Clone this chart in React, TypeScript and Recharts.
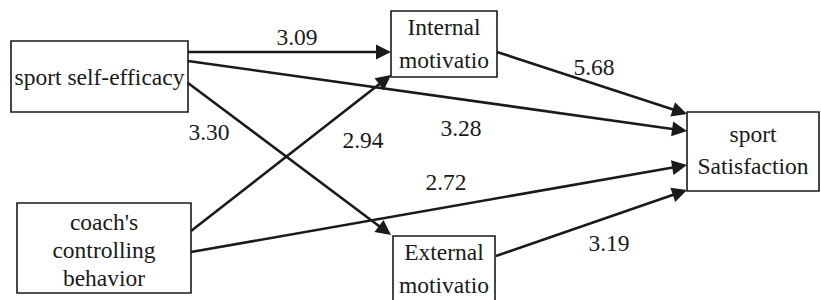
import React from 'react';
import { ScatterChart, Scatter, XAxis, YAxis, ReferenceArea, ReferenceLine } from 'recharts';

const CHART_W = 821;
const CHART_H = 300;

// Nodes of the path model
const nodeIds = ['SE', 'IM', 'SS', 'CC', 'EM'];
const nodeLabels: string[][] = [
  ['sport self-efficacy'],
  ['Internal', 'motivatio'],
  ['sport', 'Satisfaction'],
  ["coach's", 'controlling', 'behavior'],
  ['External', 'motivatio'],
];
// Layout (diagram units)
const nodeLeft = [11, 391, 687, 17, 393];
const nodeRight = [188, 497, 819, 191, 495];
const nodeTop = [41, 11, 112, 203, 236];
const nodeBottom = [112, 77, 191, 293, 315];
const nodeTextY = [77, 27, 134, 222, 252];
const nodeLineGap = [0, 33, 32, 28, 33];

// Paths and coefficients
const edgeFrom = ['SE', 'SE', 'SE', 'CC', 'CC', 'IM', 'EM'];
const edgeTo = ['IM', 'SS', 'EM', 'IM', 'SS', 'SS', 'SS'];
const edgeCoef = [3.09, 3.28, 3.3, 2.94, 2.72, 5.68, 3.19];
// Layout of paths (diagram units)
const edgeX1 = [188, 188, 188, 191, 191, 497, 496];
const edgeY1 = [52, 61, 83, 231, 252, 52, 256];
const edgeX2 = [391, 687, 391, 391, 687, 687, 687];
const edgeY2 = [52, 131, 235, 75, 165, 114, 190];
const labelX = [297, 461, 209, 363, 446, 594, 609];
const labelY = [37, 128, 132, 140, 182, 67, 243];

const INK = '#1a1a1a';
const FONT = 'Times New Roman';
const FS = 23.5;

const labelData = edgeCoef.map((c, i) => ({
  x: labelX[i],
  y: labelY[i],
  text: c.toFixed(2),
  path: `${edgeFrom[i]}->${edgeTo[i]}`,
}));

const nodeTextData = nodeIds.map((id, i) => ({
  x: (nodeLeft[i] + nodeRight[i]) / 2,
  y: nodeTextY[i],
  id,
  lines: nodeLabels[i],
  gap: nodeLineGap[i],
}));

const ArrowShape = (props: any) => {
  const { x1, y1, x2, y2 } = props;
  if ([x1, y1, x2, y2].some((v) => typeof v !== 'number' || isNaN(v))) return null;
  const dx = x2 - x1;
  const dy = y2 - y1;
  const len = Math.sqrt(dx * dx + dy * dy) || 1;
  const ux = dx / len;
  const uy = dy / len;
  const L = 15;
  const Wd = 7.5;
  const bx = x2 - ux * L;
  const by = y2 - uy * L;
  const px = -uy * Wd;
  const py = ux * Wd;
  return (
    <g>
      <line x1={x1} y1={y1} x2={bx + ux * 2} y2={by + uy * 2} stroke={INK} strokeWidth={2.6} />
      <polygon points={`${x2},${y2} ${bx + px},${by + py} ${bx - px},${by - py}`} fill={INK} stroke="none" />
    </g>
  );
};

const LabelShape = (props: any) => {
  const { cx, cy, payload } = props;
  return (
    <text x={cx} y={cy + 8} textAnchor="middle" style={{ fontFamily: FONT, fontSize: FS }} fill={INK}>
      {payload.text}
    </text>
  );
};

const NodeTextShape = (props: any) => {
  const { cx, cy, payload } = props;
  return (
    <g>
      {payload.lines.map((ln: string, k: number) => (
        <text key={k} x={cx} y={cy + k * payload.gap + 8} textAnchor="middle" style={{ fontFamily: FONT, fontSize: FS }} fill={INK}>
          {ln}
        </text>
      ))}
    </g>
  );
};

export default function App() {
  return (
    <div style={{ position: 'absolute', left: 0, top: 0, width: CHART_W, height: CHART_H, background: '#fff' }}>
      <ScatterChart width={CHART_W} height={CHART_H} margin={{ top: 0, right: 0, bottom: 0, left: 0 }}>
        <XAxis type="number" dataKey="x" domain={[0, CHART_W]} hide />
        <YAxis type="number" dataKey="y" domain={[0, CHART_H]} reversed hide />
        {edgeCoef.map((c, i) => (
          <ReferenceLine
            key={`e${i}`}
            segment={[
              { x: edgeX1[i], y: edgeY1[i] },
              { x: edgeX2[i], y: edgeY2[i] },
            ]}
            ifOverflow="visible"
            shape={ArrowShape}
          />
        ))}
        {nodeIds.map((id, i) => (
          <ReferenceArea
            key={id}
            x1={nodeLeft[i]}
            x2={nodeRight[i]}
            y1={nodeTop[i]}
            y2={nodeBottom[i]}
            ifOverflow="hidden"
            fill="#ffffff"
            fillOpacity={1}
            stroke={INK}
            strokeWidth={1.6}
          />
        ))}
        <Scatter data={labelData} shape={LabelShape} isAnimationActive={false} />
        <Scatter data={nodeTextData} shape={NodeTextShape} isAnimationActive={false} />
      </ScatterChart>
    </div>
  );
}
